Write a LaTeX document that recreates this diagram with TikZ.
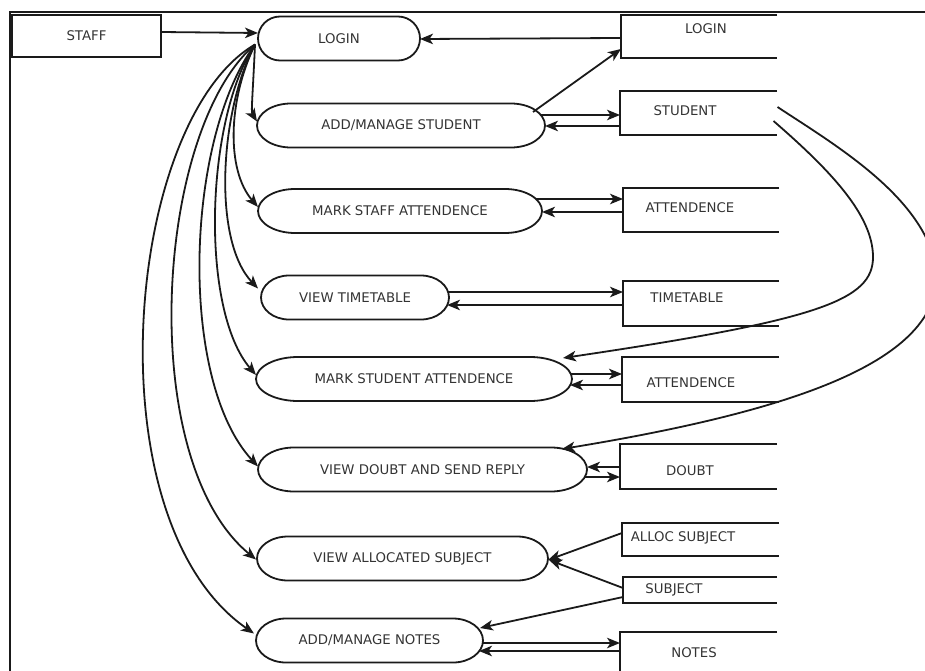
\documentclass[tikz,border=0pt]{standalone}
\usepackage{fontspec}
\setmainfont{DejaVu Sans}
\usetikzlibrary{arrows.meta,calc}
\definecolor{ink}{HTML}{1A1A1A}
\definecolor{txt}{HTML}{333333}

\begin{document}
\begin{tikzpicture}[x=1pt,y=-1pt,
  every node/.style={font=\fontsize{13.3}{15}\selectfont, text=txt},
  ln/.style={draw=ink, line width=1.8pt},
  arr/.style={ln, -{Stealth[length=13pt, width=10.5pt, inset=3.5pt]}},
  proc/.style={rectangle, draw=none, minimum height=44, inner sep=0, outer sep=0},
  store/.style={rectangle, draw=none, inner sep=0, outer sep=0},
  entity/.style={rectangle, ln, minimum width=149, minimum height=42, inner sep=0, outer sep=0},
  lbl/.style={inner sep=0}
]
\useasboundingbox (0,0) rectangle (925,671);

% frame
\draw[ln] (10,672) -- (10,12) -- (926,12);

% external entity
\node[entity] (staff) at (86.5,36) {STAFF};

% processes
\node[proc, minimum width=162] (p1) at (339,38.5)   {LOGIN};
\node[proc, minimum width=288] (p2) at (401,125.5)  {ADD/MANAGE STUDENT};
\node[proc, minimum width=284] (p3) at (400,211)    {MARK STAFF ATTENDENCE};
\node[proc, minimum width=188] (p4) at (355,297.5)  {VIEW TIMETABLE};
\node[proc, minimum width=316] (p5) at (414,379)    {MARK STUDENT ATTENDENCE};
\node[proc, minimum width=329] (p6) at (422.5,469.5){VIEW DOUBT AND SEND REPLY};
\node[proc, minimum width=291] (p7) at (402.5,558.5){VIEW ALLOCATED SUBJECT};
\node[proc, minimum width=227] (p8) at (369.5,640.5){ADD/MANAGE NOTES};

% process outlines: straight top and bottom, elliptic ends
\foreach \pn/\r in {p1/22,p2/34,p3/37,p4/28,p5/42,p6/36,p7/31,p8/30}{
  \draw[ln] let \p1=(\pn.north west), \p2=(\pn.south east) in
    (\x1+\r pt,\y1) -- (\x2-\r pt,\y1)
    arc[start angle=90, end angle=-90, x radius=\r pt, y radius=22pt]
    -- (\x1+\r pt,\y2)
    arc[start angle=270, end angle=90, x radius=\r pt, y radius=22pt]
    -- cycle;
}

% data stores (open on the right)
\node[store, minimum width=156, minimum height=43, label={[lbl, shift={(7,-7.5)}]center:LOGIN}]          (s1) at (699,36.5)  {};
\node[store, minimum width=157, minimum height=44, label={[lbl, shift={(-13.5,-2)}]center:STUDENT}]      (s2) at (698.5,113) {};
\node[store, minimum width=156, minimum height=44, label={[lbl, shift={(-11,-2)}]center:ATTENDENCE}]     (s3) at (701,210)   {};
\node[store, minimum width=156, minimum height=45, label={[lbl, shift={(-14,-5.5)}]center:TIMETABLE}]    (s4) at (701,303.5) {};
\node[store, minimum width=157, minimum height=45, label={[lbl, shift={(-9.5,3.5)}]center:ATTENDENCE}]   (s5) at (700.5,379.5) {};
\node[store, minimum width=157, minimum height=45, label={[lbl, shift={(-8.5,4.5)}]center:DOUBT}]        (s6) at (698.5,466.5) {};
\node[store, minimum width=157, minimum height=33, label={[lbl, shift={(-17.5,-1.5)}]center:ALLOC SUBJECT}] (s7) at (700.5,539.5) {};
\node[store, minimum width=154, minimum height=26, label={[lbl, shift={(-26,0)}]center:SUBJECT}]         (s8) at (700,590)   {};
\node[store, minimum width=157, minimum height=44, label={[lbl, shift={(-4.5,-1)}]center:NOTES}]         (s9) at (698.5,654) {};

\foreach \s in {s1,s2,s3,s4,s5,s6,s7,s8,s9}
  \draw[ln] (\s.north east) -- (\s.north west) -- (\s.south west) -- (\s.south east);

% staff and login
\draw[arr] ([shift={(0,-4)}]staff.east) -- ([shift={(0,-5.5)}]p1.west);
\draw[arr] ([shift={(0,1.5)}]s1.west) -- ([shift={(0,0.5)}]p1.east);

% fan of flows leaving login
\coordinate (fan) at ([shift={(-3,6)}]p1.west);
\draw[arr] (fan) .. controls (253,90)  and (251,112) .. ([shift={(0,-4)}]p2.west);
\draw[arr] (fan) .. controls (228,100) and (226,170) .. ([shift={(0,-4)}]p3.west);
\draw[arr] (fan) .. controls (220,110) and (212,240) .. ([shift={(-3,-9)}]p4.west);
\draw[arr] (fan) .. controls (205,120) and (200,310) .. ([shift={(0,-4)}]p5.west);
\draw[arr] (fan) .. controls (185,140) and (178,380) .. ([shift={(0,-3)}]p6.west);
\draw[arr] (fan) .. controls (155,130) and (135,460) .. ([shift={(-1,1)}]p7.west);
\draw[arr] (fan) .. controls (125,120) and (90,520)  .. ([shift={(-2,-7)}]p8.west);

% add/manage student
\draw[arr] ([shift={(-12,-13.5)}]p2.east) -- ([shift={(0,-9)}]s1.south west);
\draw[arr] ([shift={(-4,-10.5)}]p2.east) -- ([shift={(0,-10.5)}]p2.east -| s2.west);
\draw[arr] ([shift={(0,0.5)}]p2.east -| s2.west) -- ([shift={(0,0.5)}]p2.east);

% student store to attendance and doubt
\draw[arr] ([shift={(-3.5,8)}]s2.east) .. controls (830,170) and (873,215) .. (873,257)
  .. controls (873,300) and (820,320) .. ([shift={(-9,1)}]p5.north east);
\draw[arr] ([shift={(0.5,-6)}]s2.east) .. controls (835,145) and (930,200) .. (937,275)
  .. controls (937,360) and (800,410) .. ([shift={(-25,1.5)}]p6.north east);

% mark staff attendence
\draw[arr] ([shift={(-6,-12)}]p3.east) -- ([shift={(0,-12)}]p3.east -| s3.west);
\draw[arr] ([shift={(0,1)}]p3.east -| s3.west) -- ([shift={(0,1)}]p3.east);

% view timetable
\draw[arr] ([shift={(-1,-5.5)}]p4.east) -- ([shift={(0,-5.5)}]p4.east -| s4.west);
\draw[arr] ([shift={(0,7.5)}]p4.east -| s4.west) -- ([shift={(-2,7.5)}]p4.east);

% mark student attendence
\draw[arr] ([shift={(-1,-5)}]p5.east) -- ([shift={(0,-5)}]p5.east -| s5.west);
\draw[arr] ([shift={(0,6)}]p5.east -| s5.west) -- ([shift={(-2,6)}]p5.east);

% view doubt and send reply
\draw[arr] ([shift={(0,-2.5)}]p6.east -| s6.west) -- ([shift={(0,-2.5)}]p6.east);
\draw[arr] ([shift={(-2,7.5)}]p6.east) -- ([shift={(0,7.5)}]p6.east -| s6.west);

% allocated subject
\draw[arr] ([shift={(0,-6.5)}]s7.west) -- ([shift={(0,1.5)}]p7.east);
\draw[arr] ([shift={(0,-2)}]s8.west) -- ([shift={(1,1.5)}]p7.east);

% notes
\draw[arr] ([shift={(0,7)}]s8.west) -- ([shift={(-3,-12.5)}]p8.east);
\draw[arr] ([shift={(0,2.5)}]p8.east) -- ([shift={(0,2.5)}]p8.east -| s9.west);
\draw[arr] ([shift={(0,10.5)}]p8.east -| s9.west) -- ([shift={(-4,10.5)}]p8.east);
\end{tikzpicture}
\end{document}
